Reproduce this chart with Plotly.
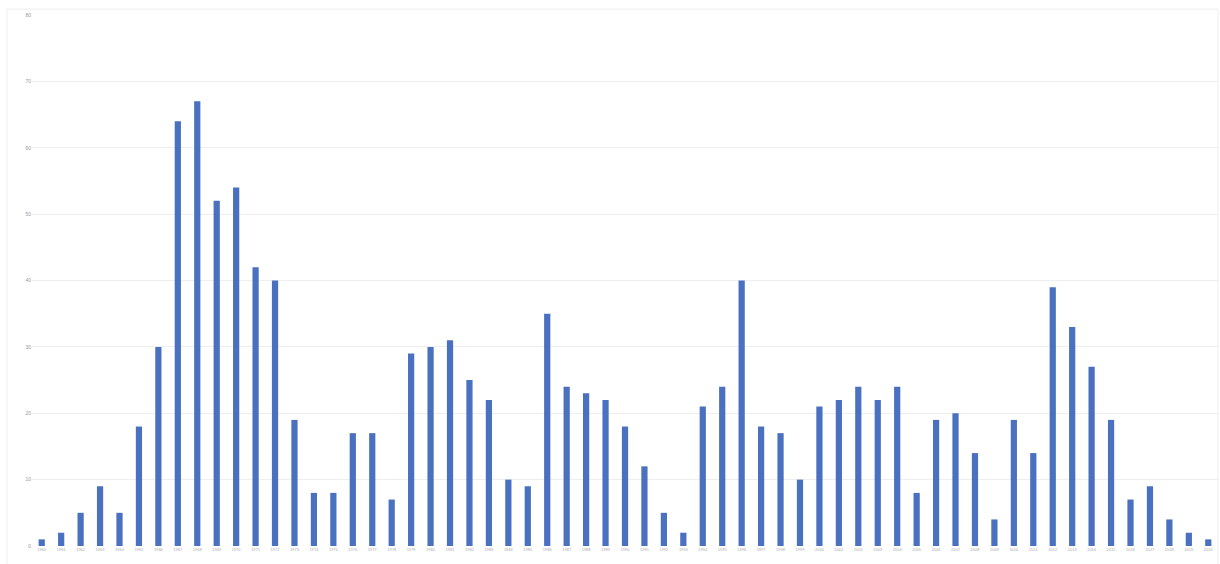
import plotly.graph_objects as go

categories = [str(y) for y in range(1960, 2021)]
values = [1, 2, 5, 9, 5, 18, 30, 64, 67, 52, 54, 42, 40, 19, 8, 8, 17, 17, 7, 29,
          30, 31, 25, 22, 10, 9, 35, 24, 23, 22, 18, 12, 5, 2, 21, 24, 40, 18, 17, 10,
          21, 22, 24, 22, 24, 8, 19, 20, 14, 4, 19, 14, 39, 33, 27, 19, 7, 9, 4, 2, 1]
y_ticks = [0, 10, 20, 30, 40, 50, 60, 70, 80]

fig = go.Figure(go.Bar(
    x=categories, y=values,
    marker=dict(color="#4a70c0", line=dict(width=0)),
))

fig.update_layout(
    width=1220, height=564,
    margin=dict(l=32, r=2, t=15, b=18),
    paper_bgcolor="white", plot_bgcolor="white",
    bargap=0.68,
    showlegend=False,
    font=dict(family="Liberation Sans, Arial, sans-serif", size=5, color="#999999"),
    xaxis=dict(
        type="category", tickangle=0, tickfont=dict(size=4, color="#aaaaaa"),
        showgrid=False, showline=False, ticks="", ticklen=0,
    ),
    yaxis=dict(
        range=[0, 80], tickvals=y_ticks, ticktext=[str(v) for v in y_ticks],
        gridcolor="#eeeeee", gridwidth=1, zeroline=False, showline=False,
        tickfont=dict(size=5, color="#999999"), ticks="",
    ),
    shapes=[dict(type="rect", xref="paper", yref="paper", x0=-0.021, x1=1.0, y0=-0.05, y1=1.011,
                 line=dict(color="#eeeeee", width=1), layer="below")],
)

fig.write_html(
    "out.html",
    default_width="1220px", default_height="564px",
    config={"responsive": False, "displayModeBar": False},
    post_script="document.body.style.margin='0';document.body.style.overflow='hidden';",
)
